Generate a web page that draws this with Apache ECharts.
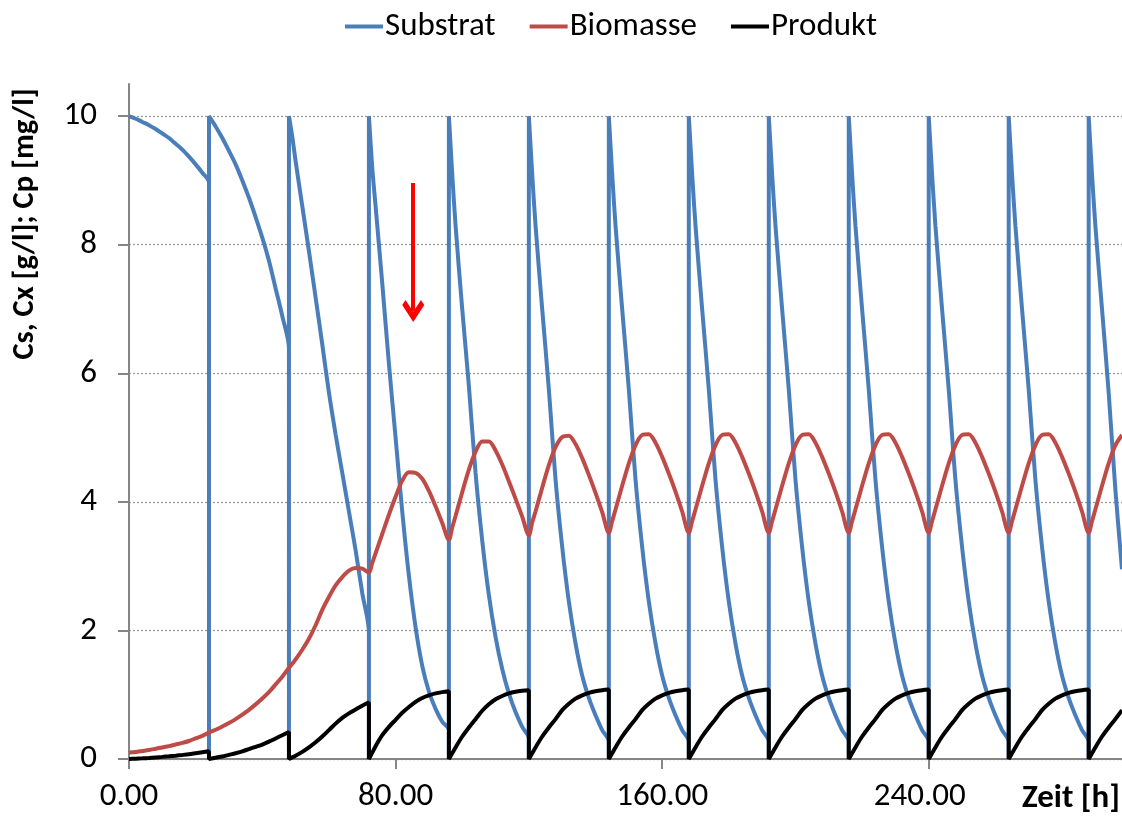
<!DOCTYPE html>
<html>
<head>
<meta charset="utf-8">
<script src="https://cdn.jsdelivr.net/npm/echarts@6/dist/echarts.min.js"></script>
<style>
html,body{margin:0;padding:0;background:#fff;}
#chart{width:1122px;height:819px;}
</style>
</head>
<body>
<div id="chart"></div>
<script>
// Zeit [h]
const zeit = [
 0,2,4,6,8,10,12,14,16,18,20,22,24,24,24,
 26,28,30,32,34,36,38,40,42,44,46,48,48,48,
 49,50,52,54,56,58,60,62,64,66,68,70,72,72,72,
 73,74,76,78,80,82,84,86,88,90,92,94,96,96,96,
 97,98,100,102,104,106,108,110,112,114,116,118,120,120,120,
 121,122,124,126,128,130,132,134,136,138,140,142,144,144,144,
 145,146,148,150,152,154,156,158,160,162,164,166,168,168,168,
 169,170,172,174,176,178,180,182,184,186,188,190,192,192,192,
 193,194,196,198,200,202,204,206,208,210,212,214,216,216,216,
 217,218,220,222,224,226,228,230,232,234,236,238,240,240,240,
 241,242,244,246,248,250,252,254,256,258,260,262,264,264,264,
 265,266,268,270,272,274,276,278,280,282,284,286,288,288,288,
 289,290,292,294,296,298
];
const substrat = [
 10,9.96,9.91,9.86,9.80,9.73,9.66,9.57,9.48,9.37,9.25,9.12,8.97,0,10,
 9.84,9.66,9.46,9.25,9.0,8.73,8.43,8.11,7.75,7.32,6.89,6.39,0,10,
 9.68,9.3,8.6,7.9,7.18,6.45,5.7,5.05,4.45,3.85,3.25,2.58,1.97,0,10,
 9.2,8.6,7.4,6.15,5.0,3.85,2.85,2.05,1.45,1.05,0.78,0.58,0.45,0,10,
 9.1,8.3,7.0,5.8,4.45,3.4,2.55,1.9,1.4,1.02,0.73,0.5,0.32,0,10,
 9.1,8.3,7.0,5.75,4.35,3.3,2.45,1.8,1.3,0.95,0.68,0.45,0.27,0,10,
 9.1,8.3,7.0,5.75,4.35,3.3,2.45,1.8,1.3,0.95,0.68,0.45,0.27,0,10,
 9.1,8.3,7.0,5.75,4.35,3.3,2.45,1.8,1.3,0.95,0.68,0.45,0.27,0,10,
 9.1,8.3,7.0,5.75,4.35,3.3,2.45,1.8,1.3,0.95,0.68,0.45,0.27,0,10,
 9.1,8.3,7.0,5.75,4.35,3.3,2.45,1.8,1.3,0.95,0.68,0.45,0.27,0,10,
 9.1,8.3,7.0,5.75,4.35,3.3,2.45,1.8,1.3,0.95,0.68,0.45,0.27,0,10,
 9.1,8.3,7.0,5.75,4.35,3.3,2.45,1.8,1.3,0.95,0.68,0.45,0.27,0,10,
 9.1,8.3,7.0,5.7,4.2,2.95
];
const biomasse = [
 0.10,0.11,0.125,0.14,0.16,0.18,0.20,0.225,0.25,0.28,0.32,0.36,0.41,0.41,0.41,
 0.455,0.505,0.56,0.62,0.69,0.765,0.85,0.94,1.04,1.16,1.28,1.42,1.42,1.42,
 1.48,1.55,1.70,1.87,2.08,2.32,2.52,2.70,2.83,2.93,2.97,2.96,2.90,2.90,2.90,
 3.05,3.20,3.50,3.80,4.08,4.33,4.46,4.45,4.36,4.17,3.93,3.67,3.41,3.41,3.41,
 3.60,3.78,4.15,4.50,4.78,4.94,4.94,4.80,4.58,4.32,4.05,3.77,3.48,3.48,3.48,
 3.68,3.85,4.22,4.57,4.85,5.01,5.03,4.90,4.68,4.42,4.14,3.84,3.52,3.52,3.52,
 3.70,3.88,4.25,4.60,4.88,5.04,5.05,4.92,4.70,4.44,4.16,3.85,3.52,3.52,3.52,
 3.70,3.88,4.25,4.60,4.88,5.04,5.05,4.92,4.70,4.44,4.16,3.85,3.52,3.52,3.52,
 3.70,3.88,4.25,4.60,4.88,5.04,5.05,4.92,4.70,4.44,4.16,3.85,3.52,3.52,3.52,
 3.70,3.88,4.25,4.60,4.88,5.04,5.05,4.92,4.70,4.44,4.16,3.85,3.52,3.52,3.52,
 3.70,3.88,4.25,4.60,4.88,5.04,5.05,4.92,4.70,4.44,4.16,3.85,3.52,3.52,3.52,
 3.70,3.88,4.25,4.60,4.88,5.04,5.05,4.92,4.70,4.44,4.16,3.85,3.52,3.52,3.52,
 3.70,3.88,4.25,4.60,4.88,5.04
];
const produkt = [
 0,0.005,0.01,0.017,0.025,0.033,0.042,0.052,0.063,0.075,0.09,0.105,0.12,0,0,
 0.02,0.04,0.065,0.09,0.12,0.155,0.19,0.225,0.27,0.32,0.37,0.42,0,0,
 0.025,0.05,0.11,0.18,0.26,0.35,0.45,0.55,0.64,0.71,0.77,0.83,0.88,0,0,
 0.10,0.20,0.37,0.50,0.61,0.72,0.81,0.89,0.95,0.99,1.02,1.04,1.055,0,0,
 0.09,0.18,0.35,0.49,0.62,0.75,0.85,0.93,0.98,1.02,1.045,1.06,1.07,0,0,
 0.09,0.18,0.35,0.49,0.62,0.76,0.86,0.94,0.99,1.03,1.055,1.07,1.08,0,0,
 0.09,0.18,0.35,0.49,0.62,0.76,0.86,0.94,0.99,1.03,1.055,1.07,1.08,0,0,
 0.09,0.18,0.35,0.49,0.62,0.76,0.86,0.94,0.99,1.03,1.055,1.07,1.08,0,0,
 0.09,0.18,0.35,0.49,0.62,0.76,0.86,0.94,0.99,1.03,1.055,1.07,1.08,0,0,
 0.09,0.18,0.35,0.49,0.62,0.76,0.86,0.94,0.99,1.03,1.055,1.07,1.08,0,0,
 0.09,0.18,0.35,0.49,0.62,0.76,0.86,0.94,0.99,1.03,1.055,1.07,1.08,0,0,
 0.09,0.18,0.35,0.49,0.62,0.76,0.86,0.94,0.99,1.03,1.055,1.07,1.08,0,0,
 0.09,0.18,0.35,0.49,0.62,0.76
];
const seriesNamen = ['Substrat', 'Biomasse', 'Produkt'];
const xTicks = [0, 80, 160, 240];
const yTicks = [0, 2, 4, 6, 8, 10];
// red arrow annotation (time, value) start -> end
const pfeilZeit = [85.3, 85.3];
const pfeilWert = [8.96, 6.97];

const FONT = 'Calibri, Carlito, Lato, sans-serif';
const pair = arr => zeit.map((t, i) => [t, arr[i]]);

const chart = echarts.init(document.getElementById('chart'), null, {renderer: 'canvas'});
chart.setOption({
  animation: false,
  backgroundColor: '#ffffff',
  textStyle: {fontFamily: FONT},
  legend: {
    data: seriesNamen,
    left: 340, top: 5,
    icon: 'rect',
    itemWidth: 38, itemHeight: 4, itemGap: 34,
    textStyle: {fontSize: 33, color: '#000', fontFamily: FONT, padding: [0, 0, 0, -3]}
  },
  grid: {left: 129, right: 0, top: 84, bottom: 60, containLabel: false},
  xAxis: {
    type: 'value', min: 0, max: 298,
    axisLine: {show: true, lineStyle: {color: '#868686', width: 2}},
    axisTick: {show: true, length: 10, customValues: xTicks, lineStyle: {color: '#868686', width: 2}},
    axisLabel: {customValues: xTicks, fontSize: 33, color: '#000', margin: 21, fontFamily: FONT,
      formatter: v => v === 240 ? '{s|240.00}' : v.toFixed(2),
      rich: {s: {fontSize: 33, fontFamily: FONT, color: '#000', padding: [0, 18, 0, 0]}}},
    splitLine: {show: false}
  },
  yAxis: {
    type: 'value', min: 0, max: 10.5,
    axisLine: {show: true, lineStyle: {color: '#868686', width: 2}},
    axisTick: {show: true, length: 11, customValues: yTicks, lineStyle: {color: '#868686', width: 2}},
    axisLabel: {customValues: yTicks, fontSize: 33, color: '#000', margin: 32, fontFamily: FONT},
    splitLine: {show: true, lineStyle: {color: '#9a9a9a', width: 1.3, type: [2, 2]}}
  },
  graphic: [
    {type: 'text', x: 25, y: 224, rotation: Math.PI / 2,
      style: {text: 'Cs, Cx [g/l]; Cp [mg/l]', font: 'bold 30.5px ' + FONT, fill: '#000',
        textAlign: 'center', textVerticalAlign: 'middle'}},
    {type: 'text', right: 2, top: 782,
      style: {text: 'Zeit [h]', font: 'bold 33px ' + FONT, fill: '#000'}}
  ],
  series: [
    {name: 'Substrat', type: 'line', data: pair(substrat), symbol: 'none', showSymbol: false, smooth: 0.3,
      lineStyle: {color: '#4A7EBB', width: 4}, itemStyle: {color: '#4A7EBB'}, z: 2},
    {name: 'Biomasse', type: 'line', data: pair(biomasse), symbol: 'none', showSymbol: false, smooth: 0.3,
      lineStyle: {color: '#BE4B48', width: 4}, itemStyle: {color: '#BE4B48'}, z: 3},
    {name: 'Produkt', type: 'line', data: pair(produkt), symbol: 'none', showSymbol: false, smooth: 0.3,
      lineStyle: {color: '#000000', width: 4}, itemStyle: {color: '#000000'}, z: 4},
    {name: 'Pfeil', type: 'lines', coordinateSystem: 'cartesian2d', silent: true, z: 5,
      symbol: ['none', 'path://M10,0 L20,10 L17,13 L10,6 L3,13 L0,10 Z'], symbolSize: [22, 22],
      lineStyle: {color: '#ff0000', width: 4, opacity: 1},
      itemStyle: {color: '#ff0000'},
      data: [{coords: [[pfeilZeit[0], pfeilWert[0]], [pfeilZeit[1], pfeilWert[1]]]}]}
  ]
});
</script>
</body>
</html>
